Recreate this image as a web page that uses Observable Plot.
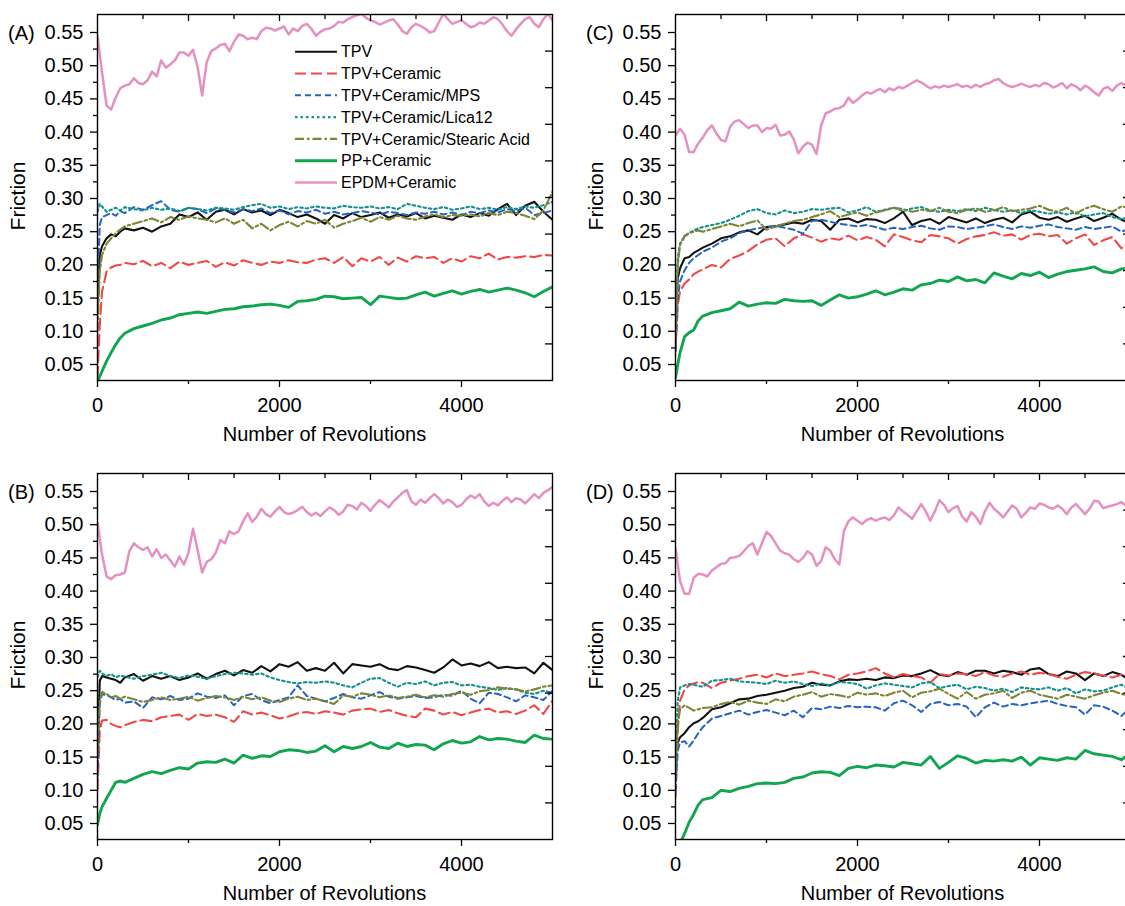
<!DOCTYPE html>
<html>
<head>
<meta charset="utf-8">
<script src="https://cdn.jsdelivr.net/npm/d3@7"></script>
<script src="https://cdn.jsdelivr.net/npm/@observablehq/plot@0.6"></script>
<style>
  html, body { margin: 0; padding: 0; background: #fff; overflow: hidden; }
  #root { position: relative; width: 1125px; height: 906px; overflow: hidden; background: #fff; }
  #root svg { position: absolute; }
</style>
</head>
<body>
<div id="root"></div>
<script>
// ---------------- DATA ----------------
const seriesNames = ["TPV", "TPV+Ceramic", "TPV+Ceramic/MPS", "TPV+Ceramic/Lica12", "TPV+Ceramic/Stearic Acid", "PP+Ceramic", "EPDM+Ceramic"];
const panelLetters = ["A", "B", "C", "D"];
const yTickValues = [0.05, 0.10, 0.15, 0.20, 0.25, 0.30, 0.35, 0.40, 0.45, 0.50, 0.55];
const yMinorValues = [0.075, 0.125, 0.175, 0.225, 0.275, 0.325, 0.375, 0.425, 0.475, 0.525];
const xTickValues = [0, 2000, 4000];
const xMinorValues = [1000, 3000];
const xTopMajor = [1000, 2000, 3000, 4000];
const xTopMinor = [500, 1500, 2500, 3500, 4500];

// sampling grid (revolutions) for the six lower series
const revs = [0,25,50,100,150,200,250,300,400,500,600,700,800,900,1000,1100,1200,1300,1400,1500,1600,1700,1800,1900,2000,2100,2200,2300,2400,2500,2600,2700,2800,2900,3000,3100,3200,3300,3400,3500,3600,3700,3800,3900,4000,4100,4200,4300,4400,4500,4600,4700,4800,4900,5000];
// finer grid for the EPDM series
const revsFine = [0,50,100,150,200,250,300,350,400,450,500,550,600,650,700,750,800,850,900,950,1000,1050,1100,1150,1200,1250,1300,1350,1400,1450,1500,1550,1600,1650,1700,1750,1800,1850,1900,1950,2000,2050,2100,2150,2200,2250,2300,2350,2400,2450,2500,2550,2600,2650,2700,2750,2800,2850,2900,2950,3000,3050,3100,3150,3200,3250,3300,3350,3400,3450,3500,3550,3600,3650,3700,3750,3800,3850,3900,3950,4000,4050,4100,4150,4200,4250,4300,4350,4400,4450,4500,4550,4600,4650,4700,4750,4800,4850,4900,4950,5000];

// ---- Panel A ----
const A_tpv = [0.14,0.215,0.228,0.240,0.246,0.243,0.250,0.255,0.252,0.256,0.250,0.258,0.262,0.276,0.272,0.279,0.268,0.280,0.283,0.276,0.284,0.279,0.282,0.275,0.283,0.278,0.272,0.276,0.270,0.262,0.275,0.270,0.278,0.272,0.275,0.279,0.271,0.276,0.273,0.278,0.270,0.274,0.271,0.268,0.276,0.272,0.278,0.274,0.284,0.292,0.275,0.289,0.295,0.280,0.268];
const A_cer = [0.03,0.11,0.16,0.190,0.196,0.199,0.200,0.203,0.201,0.206,0.198,0.203,0.195,0.205,0.200,0.203,0.206,0.197,0.204,0.199,0.207,0.203,0.200,0.205,0.203,0.207,0.204,0.203,0.208,0.210,0.203,0.212,0.198,0.210,0.205,0.212,0.200,0.211,0.205,0.213,0.210,0.212,0.203,0.210,0.205,0.213,0.210,0.217,0.208,0.212,0.211,0.213,0.212,0.215,0.214];
const A_mps = [0.17,0.26,0.272,0.275,0.278,0.274,0.281,0.278,0.287,0.283,0.290,0.296,0.283,0.280,0.286,0.284,0.278,0.285,0.283,0.279,0.284,0.281,0.285,0.278,0.282,0.276,0.281,0.279,0.283,0.277,0.280,0.276,0.278,0.281,0.279,0.276,0.280,0.278,0.275,0.279,0.277,0.280,0.276,0.279,0.275,0.280,0.278,0.282,0.279,0.284,0.281,0.286,0.275,0.278,0.282];
const A_lica = [0.28,0.292,0.288,0.280,0.283,0.286,0.282,0.287,0.284,0.282,0.286,0.283,0.285,0.281,0.286,0.284,0.282,0.286,0.285,0.283,0.287,0.290,0.292,0.286,0.288,0.284,0.287,0.285,0.288,0.286,0.285,0.289,0.287,0.286,0.288,0.285,0.287,0.284,0.292,0.289,0.286,0.284,0.287,0.283,0.285,0.288,0.284,0.286,0.283,0.287,0.284,0.288,0.286,0.290,0.295];
const A_stea = [0.10,0.19,0.215,0.232,0.240,0.248,0.253,0.258,0.262,0.266,0.270,0.264,0.272,0.268,0.273,0.270,0.268,0.264,0.270,0.262,0.268,0.255,0.262,0.252,0.260,0.265,0.258,0.266,0.262,0.268,0.256,0.262,0.266,0.271,0.265,0.272,0.268,0.274,0.270,0.268,0.273,0.276,0.272,0.275,0.274,0.276,0.273,0.278,0.275,0.280,0.278,0.274,0.269,0.282,0.310];
const A_pp = [0.025,0.032,0.040,0.055,0.068,0.080,0.090,0.097,0.104,0.108,0.112,0.117,0.120,0.125,0.127,0.129,0.127,0.130,0.133,0.134,0.137,0.138,0.140,0.141,0.139,0.136,0.145,0.146,0.148,0.153,0.152,0.149,0.150,0.151,0.140,0.153,0.151,0.149,0.150,0.155,0.159,0.153,0.157,0.161,0.156,0.160,0.163,0.159,0.162,0.165,0.162,0.158,0.152,0.160,0.167];
const A_epdm = [0.545,0.49,0.44,0.434,0.452,0.466,0.470,0.472,0.481,0.474,0.472,0.478,0.491,0.484,0.508,0.497,0.502,0.508,0.520,0.520,0.515,0.524,0.498,0.455,0.505,0.522,0.526,0.531,0.533,0.522,0.536,0.547,0.545,0.540,0.542,0.540,0.552,0.557,0.556,0.553,0.556,0.559,0.547,0.556,0.552,0.560,0.563,0.556,0.545,0.551,0.555,0.556,0.560,0.566,0.565,0.570,0.573,0.576,0.578,0.572,0.568,0.566,0.562,0.565,0.568,0.570,0.562,0.552,0.548,0.558,0.563,0.560,0.556,0.550,0.552,0.565,0.578,0.570,0.563,0.566,0.568,0.563,0.558,0.560,0.565,0.563,0.568,0.573,0.570,0.562,0.552,0.545,0.555,0.563,0.570,0.573,0.563,0.558,0.570,0.578,0.568];

// ---- Panel B ----
const B_tpv = [0.15,0.265,0.272,0.270,0.268,0.266,0.262,0.270,0.275,0.265,0.272,0.268,0.272,0.266,0.270,0.276,0.268,0.275,0.280,0.273,0.281,0.277,0.287,0.279,0.290,0.286,0.293,0.280,0.284,0.280,0.292,0.276,0.290,0.288,0.286,0.290,0.283,0.281,0.287,0.285,0.281,0.277,0.285,0.297,0.288,0.291,0.287,0.293,0.284,0.286,0.284,0.285,0.276,0.292,0.281];
const B_cer = [0.10,0.19,0.205,0.206,0.200,0.197,0.195,0.198,0.203,0.206,0.204,0.210,0.212,0.214,0.206,0.215,0.212,0.214,0.210,0.203,0.219,0.214,0.217,0.213,0.208,0.211,0.216,0.218,0.215,0.219,0.217,0.214,0.220,0.222,0.223,0.218,0.221,0.216,0.212,0.210,0.223,0.220,0.214,0.218,0.213,0.217,0.221,0.223,0.217,0.219,0.215,0.220,0.228,0.215,0.235];
const B_mps = [0.12,0.23,0.245,0.243,0.240,0.236,0.238,0.232,0.234,0.224,0.240,0.237,0.242,0.236,0.238,0.246,0.241,0.239,0.243,0.228,0.242,0.245,0.236,0.231,0.236,0.240,0.258,0.242,0.238,0.234,0.239,0.245,0.240,0.238,0.243,0.248,0.241,0.238,0.240,0.242,0.239,0.240,0.244,0.242,0.250,0.238,0.231,0.247,0.245,0.240,0.234,0.243,0.240,0.236,0.250];
const B_lica = [0.27,0.28,0.276,0.272,0.275,0.270,0.273,0.271,0.268,0.272,0.274,0.277,0.272,0.269,0.273,0.271,0.268,0.272,0.275,0.277,0.276,0.274,0.276,0.270,0.266,0.263,0.261,0.263,0.262,0.264,0.262,0.258,0.255,0.262,0.268,0.269,0.262,0.256,0.262,0.260,0.264,0.258,0.262,0.263,0.258,0.259,0.256,0.254,0.251,0.254,0.252,0.247,0.245,0.250,0.247];
const B_stea = [0.16,0.235,0.248,0.245,0.240,0.242,0.238,0.241,0.237,0.233,0.236,0.240,0.236,0.238,0.241,0.235,0.239,0.242,0.240,0.236,0.241,0.237,0.240,0.235,0.233,0.238,0.241,0.236,0.238,0.234,0.230,0.243,0.241,0.246,0.244,0.240,0.243,0.239,0.241,0.244,0.240,0.243,0.241,0.245,0.247,0.244,0.249,0.251,0.255,0.253,0.252,0.249,0.252,0.256,0.258];
const B_pp = [0.048,0.065,0.075,0.088,0.100,0.112,0.114,0.112,0.118,0.124,0.128,0.125,0.130,0.134,0.132,0.141,0.143,0.142,0.147,0.141,0.153,0.148,0.152,0.151,0.158,0.161,0.160,0.157,0.159,0.167,0.158,0.166,0.163,0.166,0.172,0.165,0.163,0.171,0.166,0.169,0.168,0.161,0.170,0.175,0.171,0.173,0.181,0.176,0.178,0.177,0.174,0.172,0.183,0.178,0.177];
const B_epdm = [0.503,0.455,0.422,0.418,0.424,0.425,0.428,0.460,0.472,0.466,0.462,0.466,0.452,0.463,0.450,0.455,0.446,0.437,0.452,0.440,0.458,0.494,0.462,0.428,0.444,0.448,0.458,0.477,0.472,0.490,0.486,0.490,0.505,0.517,0.504,0.512,0.524,0.516,0.512,0.520,0.527,0.519,0.516,0.518,0.522,0.527,0.519,0.514,0.518,0.513,0.520,0.526,0.522,0.515,0.520,0.530,0.528,0.523,0.533,0.528,0.521,0.530,0.537,0.532,0.526,0.535,0.541,0.548,0.552,0.535,0.530,0.538,0.533,0.540,0.546,0.540,0.532,0.538,0.534,0.527,0.530,0.538,0.544,0.540,0.546,0.535,0.528,0.533,0.529,0.536,0.541,0.534,0.540,0.538,0.532,0.539,0.546,0.540,0.548,0.552,0.557];

// ---- Panel C ----
const C_tpv = [0.13,0.18,0.195,0.210,0.212,0.218,0.222,0.226,0.232,0.240,0.243,0.249,0.252,0.246,0.257,0.258,0.261,0.264,0.262,0.268,0.266,0.253,0.268,0.270,0.264,0.269,0.268,0.263,0.270,0.280,0.260,0.266,0.269,0.262,0.272,0.268,0.264,0.270,0.263,0.268,0.271,0.264,0.276,0.280,0.271,0.268,0.272,0.265,0.270,0.274,0.266,0.271,0.277,0.268,0.263];
const C_cer = [0.07,0.14,0.16,0.172,0.178,0.186,0.190,0.193,0.200,0.196,0.209,0.214,0.221,0.231,0.238,0.240,0.228,0.240,0.246,0.241,0.235,0.240,0.238,0.244,0.237,0.242,0.238,0.228,0.246,0.242,0.237,0.234,0.245,0.243,0.240,0.232,0.239,0.243,0.245,0.249,0.244,0.246,0.238,0.245,0.247,0.243,0.245,0.232,0.240,0.246,0.230,0.237,0.242,0.225,0.238];
const C_mps = [0.07,0.15,0.175,0.192,0.203,0.210,0.215,0.220,0.226,0.235,0.240,0.248,0.252,0.255,0.257,0.259,0.256,0.253,0.247,0.266,0.268,0.265,0.262,0.260,0.258,0.260,0.257,0.253,0.256,0.254,0.257,0.259,0.255,0.253,0.258,0.257,0.254,0.256,0.258,0.261,0.257,0.254,0.258,0.256,0.259,0.261,0.257,0.255,0.253,0.257,0.254,0.256,0.258,0.250,0.255];
const C_lica = [0.09,0.21,0.232,0.242,0.248,0.252,0.255,0.257,0.260,0.263,0.268,0.274,0.281,0.284,0.278,0.276,0.282,0.278,0.280,0.284,0.283,0.285,0.286,0.279,0.282,0.287,0.280,0.283,0.286,0.281,0.285,0.287,0.282,0.280,0.283,0.281,0.284,0.281,0.286,0.283,0.280,0.282,0.278,0.282,0.280,0.277,0.279,0.276,0.279,0.273,0.276,0.278,0.272,0.269,0.272];
const C_stea = [0.08,0.20,0.230,0.244,0.248,0.250,0.252,0.250,0.254,0.258,0.262,0.258,0.263,0.267,0.253,0.258,0.262,0.266,0.268,0.272,0.276,0.281,0.272,0.276,0.279,0.274,0.279,0.282,0.286,0.284,0.280,0.283,0.281,0.286,0.280,0.278,0.283,0.285,0.280,0.282,0.287,0.281,0.283,0.285,0.289,0.283,0.280,0.286,0.277,0.285,0.289,0.284,0.280,0.288,0.286];
const C_pp = [0.03,0.05,0.068,0.092,0.098,0.102,0.116,0.123,0.128,0.131,0.134,0.144,0.138,0.141,0.143,0.142,0.148,0.146,0.145,0.146,0.139,0.147,0.155,0.150,0.152,0.156,0.161,0.155,0.159,0.164,0.162,0.170,0.172,0.177,0.175,0.182,0.176,0.178,0.173,0.188,0.183,0.179,0.187,0.184,0.189,0.181,0.186,0.190,0.192,0.194,0.197,0.190,0.188,0.194,0.196];
const C_epdm = [0.395,0.405,0.396,0.370,0.370,0.383,0.392,0.403,0.410,0.398,0.388,0.386,0.408,0.416,0.418,0.412,0.406,0.410,0.410,0.400,0.406,0.405,0.411,0.395,0.396,0.401,0.389,0.368,0.378,0.384,0.381,0.367,0.410,0.428,0.431,0.435,0.436,0.440,0.452,0.444,0.449,0.455,0.460,0.458,0.462,0.465,0.460,0.466,0.463,0.468,0.466,0.470,0.474,0.478,0.475,0.470,0.466,0.469,0.467,0.470,0.468,0.470,0.472,0.468,0.470,0.467,0.471,0.468,0.472,0.474,0.478,0.480,0.474,0.470,0.468,0.470,0.473,0.470,0.468,0.471,0.469,0.474,0.472,0.467,0.470,0.474,0.466,0.472,0.469,0.463,0.470,0.466,0.460,0.455,0.465,0.468,0.462,0.470,0.474,0.470,0.468];

// ---- Panel D ----
const D_tpv = [0.16,0.172,0.180,0.186,0.195,0.201,0.204,0.209,0.222,0.225,0.231,0.237,0.238,0.242,0.244,0.247,0.250,0.254,0.256,0.262,0.259,0.258,0.264,0.267,0.266,0.268,0.266,0.270,0.269,0.273,0.272,0.276,0.281,0.274,0.272,0.278,0.274,0.280,0.280,0.276,0.280,0.278,0.274,0.282,0.284,0.275,0.272,0.279,0.276,0.266,0.276,0.272,0.278,0.274,0.265];
const D_cer = [0.09,0.19,0.235,0.252,0.258,0.261,0.263,0.262,0.254,0.262,0.265,0.268,0.272,0.274,0.270,0.276,0.272,0.274,0.276,0.279,0.275,0.272,0.267,0.274,0.276,0.279,0.284,0.276,0.270,0.275,0.272,0.270,0.262,0.275,0.273,0.276,0.275,0.272,0.278,0.273,0.271,0.276,0.279,0.274,0.277,0.275,0.271,0.268,0.274,0.278,0.276,0.273,0.270,0.274,0.271];
const D_mps = [0.10,0.16,0.172,0.174,0.166,0.175,0.186,0.195,0.208,0.212,0.216,0.220,0.214,0.218,0.221,0.217,0.213,0.220,0.210,0.224,0.222,0.226,0.224,0.227,0.225,0.226,0.225,0.220,0.231,0.235,0.228,0.218,0.230,0.233,0.228,0.230,0.226,0.210,0.225,0.232,0.226,0.230,0.228,0.231,0.233,0.235,0.230,0.227,0.225,0.214,0.228,0.226,0.220,0.212,0.225];
const D_lica = [0.12,0.235,0.255,0.258,0.260,0.259,0.257,0.256,0.265,0.266,0.268,0.264,0.263,0.262,0.260,0.265,0.262,0.264,0.260,0.257,0.261,0.258,0.263,0.262,0.260,0.253,0.258,0.261,0.259,0.257,0.255,0.261,0.263,0.254,0.257,0.259,0.252,0.256,0.254,0.250,0.253,0.248,0.255,0.253,0.252,0.255,0.250,0.254,0.246,0.252,0.249,0.250,0.255,0.259,0.252];
const D_stea = [0.13,0.20,0.222,0.228,0.224,0.220,0.222,0.224,0.225,0.230,0.233,0.229,0.235,0.232,0.230,0.237,0.234,0.241,0.244,0.248,0.241,0.245,0.243,0.240,0.247,0.244,0.246,0.242,0.247,0.250,0.240,0.247,0.249,0.253,0.245,0.238,0.248,0.238,0.244,0.246,0.250,0.239,0.247,0.250,0.244,0.241,0.238,0.244,0.241,0.238,0.243,0.247,0.250,0.245,0.243];
const D_pp = [0.010,0.015,0.020,0.035,0.052,0.064,0.078,0.086,0.089,0.100,0.098,0.103,0.106,0.110,0.111,0.110,0.112,0.118,0.120,0.126,0.128,0.127,0.122,0.133,0.136,0.134,0.138,0.137,0.135,0.142,0.140,0.138,0.151,0.133,0.142,0.152,0.148,0.141,0.145,0.144,0.146,0.144,0.150,0.138,0.149,0.147,0.145,0.149,0.147,0.160,0.155,0.153,0.151,0.146,0.156];
const D_epdm = [0.465,0.415,0.396,0.396,0.420,0.426,0.425,0.422,0.431,0.436,0.441,0.442,0.450,0.451,0.453,0.460,0.468,0.472,0.455,0.472,0.489,0.483,0.472,0.461,0.457,0.455,0.448,0.444,0.450,0.460,0.455,0.438,0.445,0.466,0.461,0.448,0.440,0.490,0.505,0.511,0.506,0.501,0.507,0.510,0.506,0.509,0.511,0.507,0.514,0.526,0.520,0.515,0.509,0.520,0.531,0.520,0.506,0.520,0.537,0.530,0.519,0.525,0.528,0.512,0.505,0.519,0.512,0.501,0.520,0.533,0.524,0.518,0.511,0.520,0.529,0.524,0.511,0.518,0.526,0.524,0.532,0.530,0.526,0.524,0.529,0.524,0.516,0.526,0.531,0.524,0.516,0.524,0.536,0.535,0.525,0.527,0.529,0.531,0.534,0.529,0.530];

const panelSeries = {
  A: [A_tpv, A_cer, A_mps, A_lica, A_stea, A_pp, A_epdm],
  B: [B_tpv, B_cer, B_mps, B_lica, B_stea, B_pp, B_epdm],
  C: [C_tpv, C_cer, C_mps, C_lica, C_stea, C_pp, C_epdm],
  D: [D_tpv, D_cer, D_mps, D_lica, D_stea, D_pp, D_epdm]
};

// ---------------- STYLE / LAYOUT ----------------
const FONT = "'Liberation Sans', Arial, Helvetica, sans-serif";
const lineStyles = [
  {stroke: "#111111", strokeWidth: 2.1},
  {stroke: "#f04848", strokeWidth: 2.1, strokeDasharray: "11,5"},
  {stroke: "#2563c0", strokeWidth: 2, strokeDasharray: "6,4"},
  {stroke: "#13918f", strokeWidth: 2.1, strokeDasharray: "2.5,3"},
  {stroke: "#7d8434", strokeWidth: 2.1, strokeDasharray: "9,3,2.5,3"},
  {stroke: "#12a550", strokeWidth: 2.9},
  {stroke: "#e690c2", strokeWidth: 2.5}
];
const M = {left: 97, top: 14, right: 10, bottom: 66};
const FW = 455, FH = 366;
const Y_DOMAIN = [0.0259, 0.5771];
const offsets = {A: [0, 0], B: [0, 459], C: [578, 0], D: [578, 459]};
const rightTicks = d3.range(1, 10).map(k => Y_DOMAIN[0] + k * (Y_DOMAIN[1] - Y_DOMAIN[0]) / 10);

const root = document.getElementById("root");

function pairs(xs, ys) {
  const n = Math.min(xs.length, ys.length);
  const out = [];
  for (let i = 0; i < n; i++) out.push([xs[i], ys[i]]);
  return out;
}

function makePanel(letter) {
  const list = panelSeries[letter];
  const lineMarks = list.map((vals, i) => {
    const xs = i === 6 ? revsFine : revs;
    return Plot.line(pairs(xs, vals), {x: d => d[0], y: d => d[1], ...lineStyles[i], strokeLinejoin: "round", clip: true});
  });
  const svg = Plot.plot({
    width: M.left + FW + M.right,
    height: M.top + FH + M.bottom,
    marginLeft: M.left, marginRight: M.right, marginTop: M.top, marginBottom: M.bottom,
    x: {domain: [0, 5000]},
    y: {domain: Y_DOMAIN},
    style: {fontFamily: FONT, fontSize: "20px", color: "#000", background: "transparent", overflow: "visible"},
    marks: [
      ...lineMarks,
      Plot.frame({stroke: "#000", strokeWidth: 1.4}),
      Plot.axisY(yTickValues, {tickSize: 7, tickPadding: 7, tickFormat: d3.format(".2f"), label: null, strokeWidth: 1.3, fontSize: 20}),
      Plot.axisY(yMinorValues, {tickSize: 4, tickFormat: () => "", label: null, strokeWidth: 1.3}),
      Plot.axisX(xTickValues, {tickSize: 7, tickPadding: 10, tickFormat: d => String(d), label: null, strokeWidth: 1.3, fontSize: 20}),
      Plot.axisX(xMinorValues, {tickSize: 4, tickFormat: () => "", label: null, strokeWidth: 1.3}),
      Plot.tickX(xTopMajor, {x: d => d, insetBottom: FH - 7, stroke: "#000", strokeWidth: 1.3}),
      Plot.tickX(xTopMinor, {x: d => d, insetBottom: FH - 5, stroke: "#000", strokeWidth: 1.3}),
      Plot.tickY(rightTicks, {y: d => d, insetLeft: FW - 7, stroke: "#000", strokeWidth: 1.3})
    ]
  });
  const [ox, oy] = offsets[letter];
  svg.style.left = ox + "px";
  svg.style.top = oy + "px";
  root.appendChild(svg);
}

panelLetters.forEach(makePanel);

// ---------------- overlay texts and legend ----------------
const overlay = d3.select(root).append("svg")
  .attr("width", 1125).attr("height", 906)
  .style("left", "0px").style("top", "0px")
  .style("font-family", FONT).style("pointer-events", "none");

panelLetters.forEach(letter => {
  const [ox, oy] = offsets[letter];
  const g = overlay.append("g").attr("transform", `translate(${ox},${oy})`).attr("fill", "#000");
  g.append("text").attr("x", 8).attr("y", 39.5).attr("font-size", 20).text(`(${letter})`);
  g.append("text").attr("transform", `translate(25,196) rotate(-90)`).attr("text-anchor", "middle").attr("font-size", 21).text("Friction");
  g.append("text").attr("x", M.left + FW / 2).attr("y", 441).attr("text-anchor", "middle").attr("font-size", 20).text("Number of Revolutions");
});

const leg = overlay.append("g");
seriesNames.forEach((name, i) => {
  const cy = 51.7 + i * 21.8;
  const s = lineStyles[i];
  leg.append("line").attr("x1", 295).attr("x2", 337).attr("y1", cy).attr("y2", cy)
    .attr("stroke", s.stroke).attr("stroke-width", s.strokeWidth)
    .attr("stroke-dasharray", s.strokeDasharray || null);
  leg.append("text").attr("x", 341).attr("y", cy + 5.6).attr("font-size", 16).attr("fill", "#000").text(name);
});
</script>
</body>
</html>
